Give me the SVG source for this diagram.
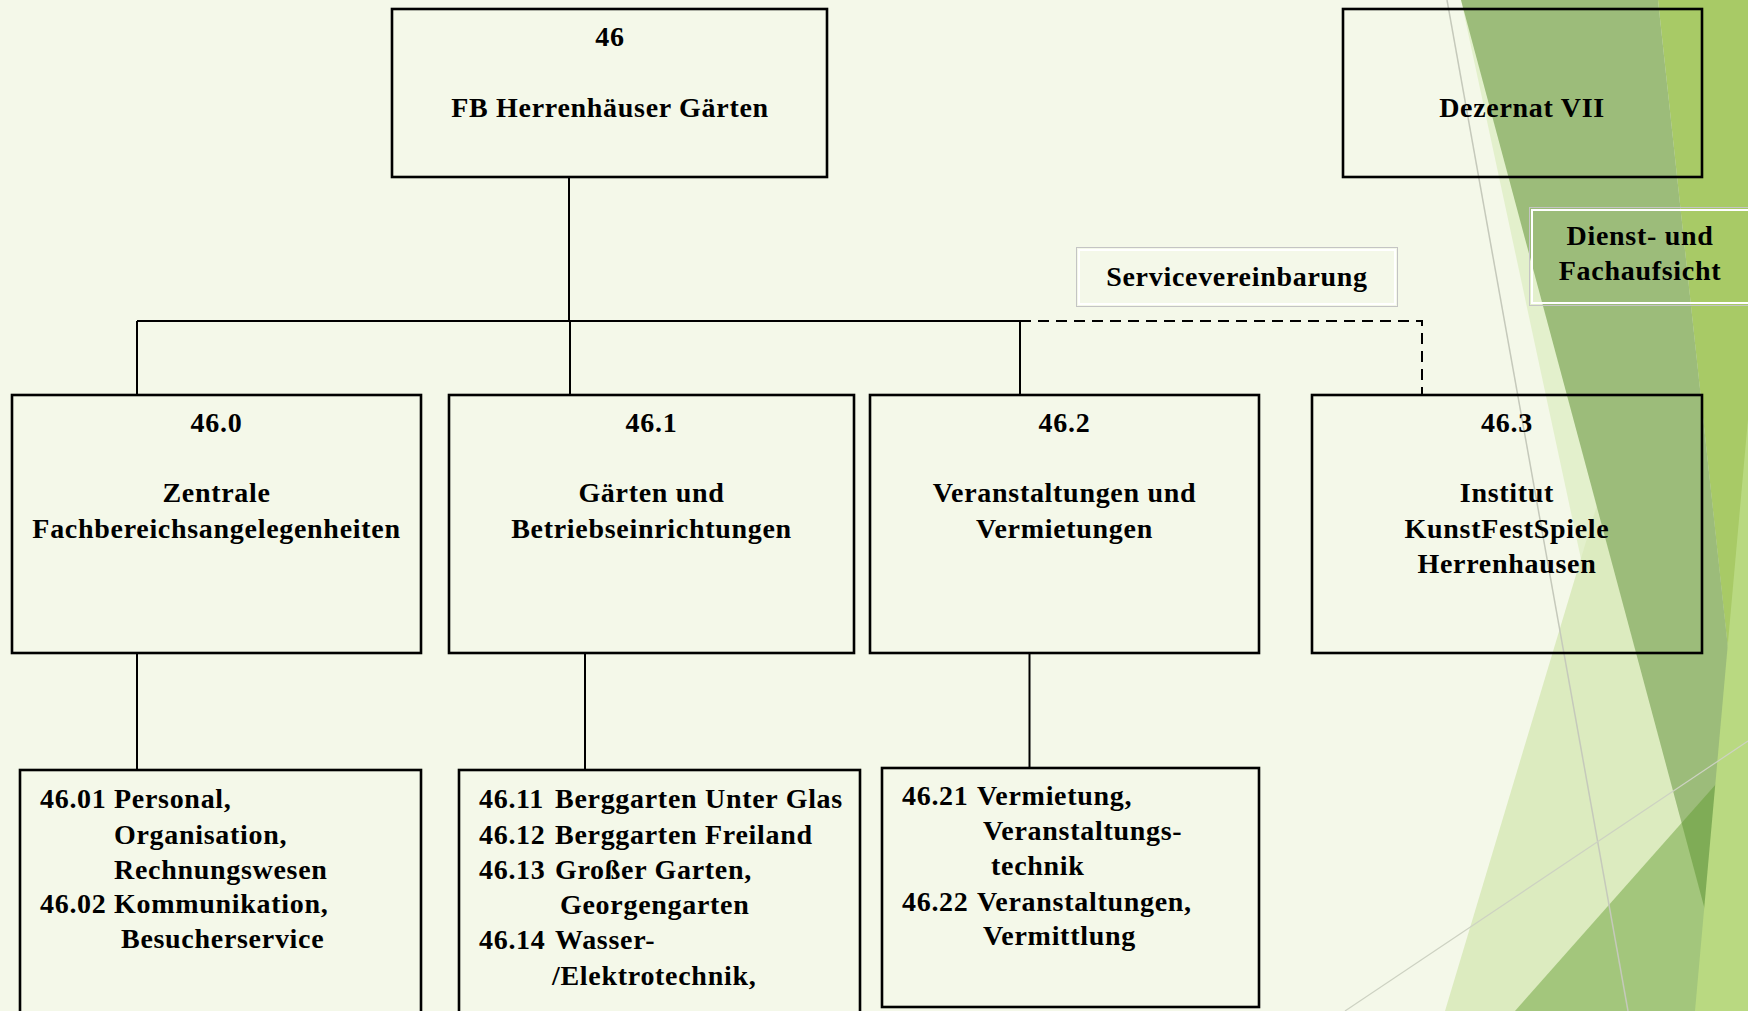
<svg xmlns="http://www.w3.org/2000/svg" width="1748" height="1011" viewBox="0 0 1748 1011">
<style>
.box{fill:none;stroke:#000;stroke-width:2.6}
.lbl{fill:none;stroke:#c4c4c4;stroke-width:1}
.lbl2{fill:none;stroke:#fff;stroke-width:2}
.t{font-family:"Liberation Serif","Times New Roman",serif;font-weight:bold;font-size:28px;letter-spacing:0.7px;fill:#000}
.c{text-anchor:middle}
.ln{stroke:#000;stroke-width:2;fill:none}
.dash{stroke:#000;stroke-width:2;fill:none;stroke-dasharray:11 7}
</style>
<rect x="0" y="0" width="1748" height="1011" fill="#F4F8E9"/>
<g id="decoration">
<polygon points="1461,0 1748,0 1748,1011 1678,1011" fill="#E3F0CC"/>
<polygon points="1445,1011 1600,495 1748,495 1748,1011" fill="#DCEBBF"/>
<polygon points="1658,0 1748,0 1748,1011 1767,1011" fill="#A8CA66"/>
<polygon points="1461,0 1658,0 1791,1231" fill="#9CBC7A"/>
<polygon points="1515,1011 1748,748 1748,1011" fill="#5E9A2A" fill-opacity="0.45"/>
<polygon points="1748,419 1695,1011 1748,1011" fill="#B9D981"/>
<line x1="1447" y1="0" x2="1628" y2="1011" stroke="#C5C9BB" stroke-width="1.5"/>
<line x1="1345" y1="1011" x2="1748" y2="741" stroke="#CDD2C2" stroke-width="1.2"/>
</g>
<g id="connectors">
<line class="ln" x1="569" y1="177" x2="569" y2="321"/>
<line class="ln" x1="137" y1="321" x2="1020" y2="321"/>
<line class="ln" x1="137" y1="321" x2="137" y2="395"/>
<line class="ln" x1="570" y1="321" x2="570" y2="395"/>
<line class="ln" x1="1020" y1="321" x2="1020" y2="395"/>
<polyline class="dash" points="1020,321 1422,321 1422,395"/>
<line class="ln" x1="137" y1="653" x2="137" y2="770"/>
<line class="ln" x1="585" y1="653" x2="585" y2="770"/>
<line class="ln" x1="1029.5" y1="653" x2="1029.5" y2="768"/>
</g>
<g id="n46">
<rect class="box" x="392" y="9" width="435" height="168"/>
<text class="t c" x="610" y="46">46</text>
<text class="t c" x="610" y="117">FB Herrenhäuser Gärten</text>
</g>
<g id="dezernat">
<rect class="box" x="1343" y="9" width="359" height="168"/>
<text class="t c" x="1522" y="117">Dezernat VII</text>
</g>
<g id="service">
<rect class="lbl" x="1076.5" y="247.5" width="321" height="59"/>
<rect class="lbl2" x="1079" y="250" width="316" height="54"/>
<text class="t c" x="1237" y="286">Servicevereinbarung</text>
</g>
<g id="aufsicht">
<rect class="lbl" x="1529.5" y="207.5" width="230" height="98"/>
<rect class="lbl2" x="1532" y="210" width="230" height="93"/>
<text class="t c" x="1640" y="245">Dienst- und</text>
<text class="t c" x="1640" y="280">Fachaufsicht</text>
</g>
<g id="n46_0">
<rect class="box" x="12" y="395" width="409" height="258"/>
<text class="t c" x="216.5" y="432">46.0</text>
<text class="t c" x="216.5" y="502">Zentrale</text>
<text class="t c" x="216.5" y="538">Fachbereichsangelegenheiten</text>
</g>
<g id="n46_1">
<rect class="box" x="449" y="395" width="405" height="258"/>
<text class="t c" x="651.5" y="432">46.1</text>
<text class="t c" x="651.5" y="502">Gärten und</text>
<text class="t c" x="651.5" y="538">Betriebseinrichtungen</text>
</g>
<g id="n46_2">
<rect class="box" x="870" y="395" width="389" height="258"/>
<text class="t c" x="1064.5" y="432">46.2</text>
<text class="t c" x="1064.5" y="502">Veranstaltungen und</text>
<text class="t c" x="1064.5" y="538">Vermietungen</text>
</g>
<g id="n46_3">
<rect class="box" x="1312" y="395" width="390" height="258"/>
<text class="t c" x="1507" y="432">46.3</text>
<text class="t c" x="1507" y="502">Institut</text>
<text class="t c" x="1507" y="538">KunstFestSpiele</text>
<text class="t c" x="1507" y="573">Herrenhausen</text>
</g>
<g id="n46_0x">
<rect class="box" x="20" y="770" width="401" height="260"/>
<text class="t" x="40" y="808">46.01</text>
<text class="t" x="114" y="808">Personal,</text>
<text class="t" x="114" y="844">Organisation,</text>
<text class="t" x="114" y="879">Rechnungswesen</text>
<text class="t" x="40" y="913">46.02</text>
<text class="t" x="114" y="913">Kommunikation,</text>
<text class="t" x="121" y="948">Besucherservice</text>
</g>
<g id="n46_1x">
<rect class="box" x="459" y="770" width="401" height="260"/>
<text class="t" x="479" y="808">46.11</text>
<text class="t" x="555" y="808">Berggarten Unter Glas</text>
<text class="t" x="479" y="844">46.12</text>
<text class="t" x="555" y="844">Berggarten Freiland</text>
<text class="t" x="479" y="879">46.13</text>
<text class="t" x="555" y="879">Großer Garten,</text>
<text class="t" x="560" y="914">Georgengarten</text>
<text class="t" x="479" y="949">46.14</text>
<text class="t" x="555" y="949">Wasser-</text>
<text class="t" x="552" y="985">/Elektrotechnik,</text>
</g>
<g id="n46_2x">
<rect class="box" x="882" y="768" width="377" height="239"/>
<text class="t" x="902" y="805">46.21</text>
<text class="t" x="977" y="805">Vermietung,</text>
<text class="t" x="983" y="840">Veranstaltungs-</text>
<text class="t" x="991" y="875">technik</text>
<text class="t" x="902" y="911">46.22</text>
<text class="t" x="977" y="911">Veranstaltungen,</text>
<text class="t" x="983" y="945">Vermittlung</text>
</g>
</svg>
